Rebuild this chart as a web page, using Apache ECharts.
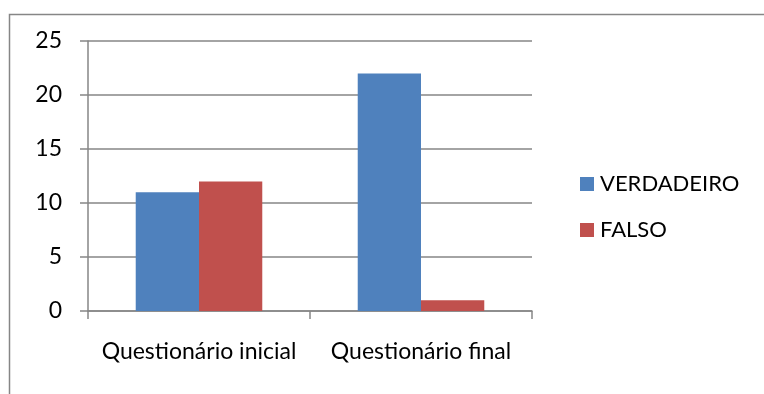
<!DOCTYPE html>
<html>
<head>
<meta charset="utf-8">
<script src="https://cdn.jsdelivr.net/npm/echarts@6/dist/echarts.min.js"></script>
<style>
  html, body { margin: 0; padding: 0; background: #fff; }
  #chart { width: 764px; height: 394px; }
</style>
</head>
<body>
<div id="chart"></div>
<script>
// Quiz answers before and after
const categories = ['Questionário inicial', 'Questionário final'];
const verdadeiro = [11, 22];
const falso = [12, 1];
const yTicks = { min: 0, max: 25, step: 5 };

const FONT = 'Lato';
const FS = 23;
const GRAY = '#868686';

const chart = echarts.init(document.getElementById('chart'), null, { renderer: 'canvas' });
chart.setOption({
  animation: false,
  backgroundColor: '#ffffff',
  textStyle: { fontFamily: FONT, color: '#000' },
  graphic: [{
    type: 'rect',
    left: 7, top: 12,
    shape: { width: 756, height: 420 },
    style: { fill: 'none', stroke: GRAY, lineWidth: 1.5 },
    silent: true
  }],
  grid: { left: 88, top: 41, width: 444, height: 270, containLabel: false },
  legend: {
    orient: 'vertical',
    left: 575, top: 168,
    itemWidth: 14, itemHeight: 14,
    itemGap: 24,
    icon: 'rect',
    textStyle: { fontFamily: FONT, fontSize: 22, color: '#000', padding: [0, 0, 0, 1] },
    data: ['VERDADEIRO', 'FALSO']
  },
  xAxis: {
    type: 'category',
    data: categories,
    axisLine: { lineStyle: { color: GRAY, width: 1.5 } },
    axisTick: { show: true, alignWithLabel: false, length: 8, lineStyle: { color: GRAY, width: 1.5 } },
    axisLabel: { fontFamily: FONT, fontSize: FS, color: '#000', margin: 29, interval: 0 }
  },
  yAxis: {
    type: 'value',
    min: yTicks.min, max: yTicks.max, interval: yTicks.step,
    axisLine: { show: true, lineStyle: { color: GRAY, width: 1.5 } },
    axisTick: { show: true, length: 8, lineStyle: { color: GRAY, width: 1.5 } },
    axisLabel: { fontFamily: FONT, fontSize: FS, color: '#000', margin: 26 },
    splitLine: { show: true, lineStyle: { color: GRAY, width: 1.5 } }
  },
  series: [
    { name: 'VERDADEIRO', type: 'bar', data: verdadeiro, barGap: '0%', barCategoryGap: '43%', itemStyle: { color: '#4F81BD' } },
    { name: 'FALSO', type: 'bar', data: falso, barGap: '0%', barCategoryGap: '43%', itemStyle: { color: '#C0504D' } }
  ]
});
</script>
</body>
</html>
